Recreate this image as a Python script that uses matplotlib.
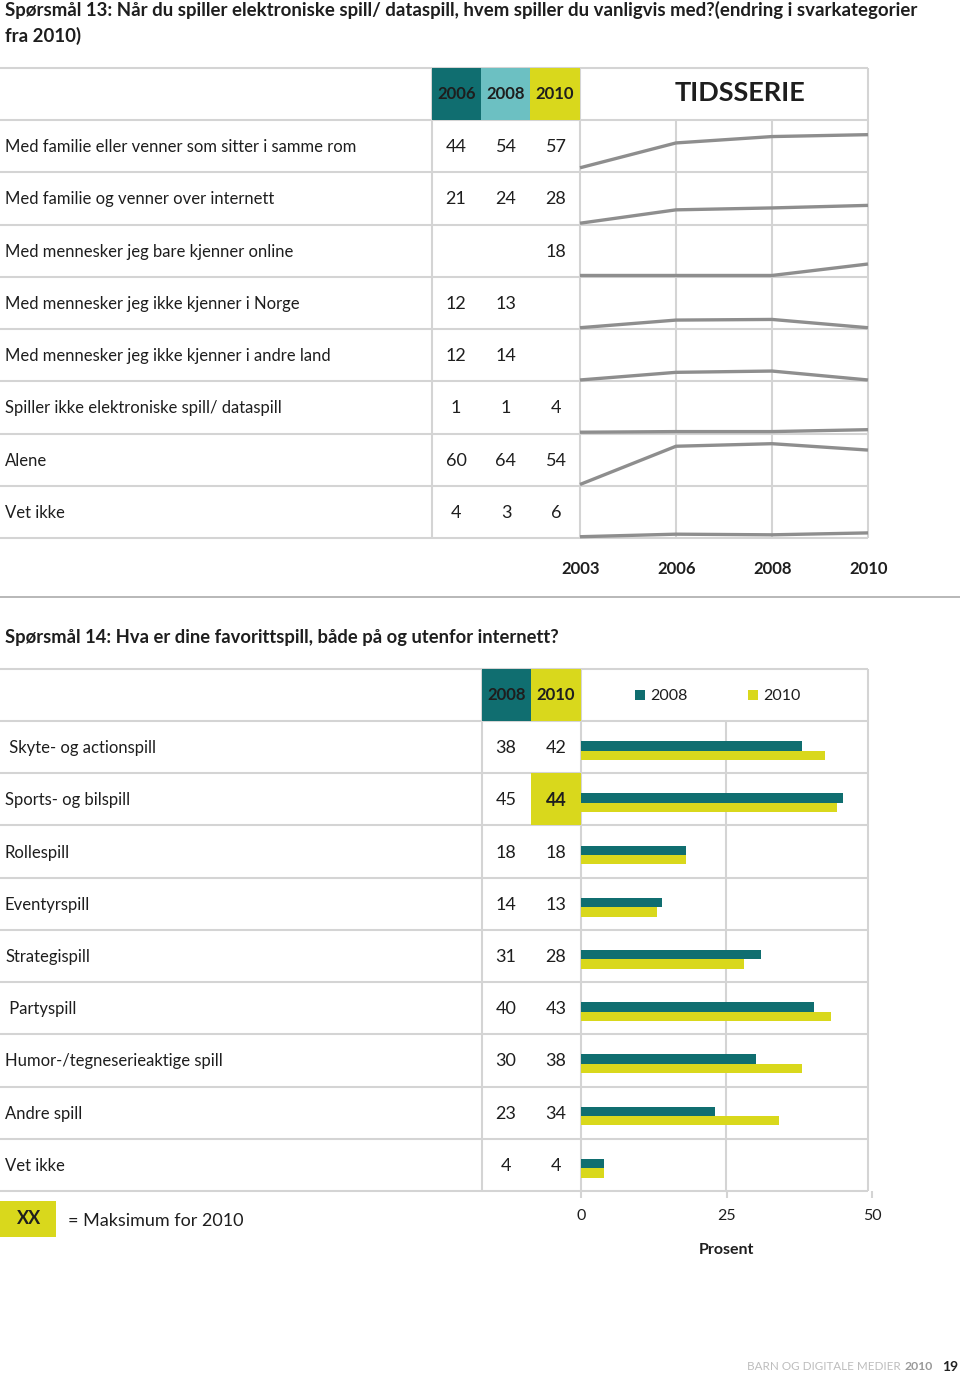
import matplotlib
matplotlib.use("Agg")
import matplotlib.pyplot as plt
from matplotlib.patches import Rectangle
import numpy as np

plt.rcParams['font.family'] = ['Lato', 'DejaVu Sans']

# ---------------- data ----------------
q13_title = ["Spørsmål 13: Når du spiller elektroniske spill/ dataspill, hvem spiller du vanligvis med?(endring i svarkategorier",
             "fra 2010)"]
q13_labels = ["Med familie eller venner som sitter i samme rom",
              "Med familie og venner over internett",
              "Med mennesker jeg bare kjenner online",
              "Med mennesker jeg ikke kjenner i Norge",
              "Med mennesker jeg ikke kjenner i andre land",
              "Spiller ikke elektroniske spill/ dataspill",
              "Alene",
              "Vet ikke"]
q13_cols = ["2006", "2008", "2010"]
q13_2006 = [44, 21, None, 12, 12, 1, 60, 4]
q13_2008 = [54, 24, None, 13, 14, 1, 64, 3]
q13_2010 = [57, 28, 18, None, None, 4, 54, 6]
# time series (sparklines); 2003 values estimated from the lines, missing plotted as 0
ts_years = ["2003", "2006", "2008", "2010"]
ts_2003 = [5, 0, 0, 0, 0, 0, 0, 0]

q14_title = "Spørsmål 14: Hva er dine favorittspill, både på og utenfor internett?"
q14_labels = [" Skyte- og actionspill", "Sports- og bilspill", "Rollespill", "Eventyrspill",
              "Strategispill", " Partyspill", "Humor-/tegneserieaktige spill", "Andre spill", "Vet ikke"]
q14_cols = ["2008", "2010"]
q14_2008 = [38, 45, 18, 14, 31, 40, 30, 23, 4]
q14_2010 = [42, 44, 18, 13, 28, 43, 38, 34, 4]
q14_ticks = [0, 25, 50]

# ---------------- style ----------------
TEAL = '#106e70'
LTEAL = '#6cc0c2'
YEL = '#d9d81c'
GRID = '#d4d4d4'
LINE = '#8e8e8e'
TXT = '#1e1e1e'

W, H = 960, 1374
fig = plt.figure(figsize=(W / 100, H / 100), dpi=100)
bg = fig.add_axes([0, 0, 1, 1])
bg.set_xlim(0, W)
bg.set_ylim(H, 0)
bg.axis('off')


def fax(x0, y0, x1, y1):
    return fig.add_axes([x0 / W, 1 - y1 / H, (x1 - x0) / W, (y1 - y0) / H])


def hline(y, x0, x1, **kw):
    bg.plot([x0, x1], [y, y], color=kw.get('color', GRID), lw=kw.get('lw', 1.5), zorder=1,
            solid_capstyle='butt')


def vline(x, y0, y1, **kw):
    bg.plot([x, x], [y0, y1], color=kw.get('color', GRID), lw=kw.get('lw', 1.5), zorder=1,
            solid_capstyle='butt')


# ---------------- Q13 ----------------
bg.text(5, 10, q13_title[0], fontsize=13.4, fontweight='bold', va='center', color=TXT)
bg.text(5, 36, q13_title[1], fontsize=13.4, fontweight='bold', va='center', color=TXT)

t1_top = 68
rows1 = np.linspace(120, 538, len(q13_labels) + 1)
col_edges1 = [432, 481, 530, 580]
spark_x0, spark_x1 = 580, 868

hline(t1_top, 0, spark_x1)
for y in rows1:
    hline(y, 0, spark_x1)
vline(432, t1_top, rows1[-1])
vline(580, t1_top, rows1[-1])
vline(868, t1_top, rows1[-1])
for k in (1, 2):
    vline(spark_x0 + k * (spark_x1 - spark_x0) / 3, rows1[0], rows1[-1])

head_cols1 = [TEAL, LTEAL, YEL]
for j, name in enumerate(q13_cols):
    bg.add_patch(Rectangle((col_edges1[j], t1_top), col_edges1[j + 1] - col_edges1[j], rows1[0] - t1_top,
                           facecolor=head_cols1[j], edgecolor='none', zorder=2))
    bg.text((col_edges1[j] + col_edges1[j + 1]) / 2, 94, name, fontsize=12, fontweight='bold',
            ha='center', va='center', color=TXT, zorder=3)
bg.text(740, 93, "TIDSSERIE", fontsize=19.5, fontweight='bold', ha='center', va='center', color=TXT)

num_x1 = [456, 506, 556]
for i, lab in enumerate(q13_labels):
    yc = (rows1[i] + rows1[i + 1]) / 2 + 1
    bg.text(5, yc, lab, fontsize=12, va='center', color=TXT)
    for j, series in enumerate([q13_2006, q13_2008, q13_2010]):
        v = series[i]
        if v is not None:
            bg.text(num_x1[j], yc, str(v), fontsize=13, ha='center', va='center', color=TXT)
    vals = [ts_2003[i]] + [0 if s[i] is None else s[i] for s in (q13_2006, q13_2008, q13_2010)]
    sax = fax(spark_x0, rows1[i], spark_x1, rows1[i + 1])
    sax.plot(range(len(ts_years)), vals, color=LINE, lw=2.4, clip_on=False, solid_capstyle='butt')
    sax.set_xlim(0, len(ts_years) - 1)
    sax.set_ylim(-2, 80)
    sax.axis('off')

for k, yr in enumerate(ts_years):
    bg.text(spark_x0 + 1 + k * (spark_x1 - spark_x0) / 3, 569, yr, fontsize=12, fontweight='bold',
            ha='center', va='center', color=TXT)

hline(597, 0, 960, color='#ababab', lw=1.2)

# ---------------- Q14 ----------------
bg.text(5, 637, q14_title, fontsize=13.2, fontweight='bold', va='center', color=TXT)

t2_top = 669
rows2 = np.linspace(721, 1191, len(q14_labels) + 1)
col_edges2 = [482, 531, 581]
hline(t2_top, 0, 868)
for y in rows2:
    hline(y, 0, 868)
vline(482, t2_top, rows2[-1])
vline(581, t2_top, rows2[-1])
vline(868, t2_top, rows2[-1])
vline(726, rows2[0], rows2[-1])

head_cols2 = [TEAL, YEL]
for j, name in enumerate(q14_cols):
    bg.add_patch(Rectangle((col_edges2[j], t2_top), col_edges2[j + 1] - col_edges2[j], rows2[0] - t2_top,
                           facecolor=head_cols2[j], edgecolor='none', zorder=2))
    bg.text((col_edges2[j] + col_edges2[j + 1]) / 2, 695, name, fontsize=12, fontweight='bold',
            ha='center', va='center', color=TXT, zorder=3)

# legend
for (x, c, name) in [(635, TEAL, "2008"), (748, YEL, "2010")]:
    bg.add_patch(Rectangle((x, 690), 10, 10, facecolor=c, edgecolor='none'))
    bg.text(x + 15, 695.5, name, fontsize=11.5, va='center', color=TXT)

imax = int(np.argmax(q14_2010))
num_x2 = [506, 556]
for i, lab in enumerate(q14_labels):
    yc = (rows2[i] + rows2[i + 1]) / 2 + 1
    bg.text(5, yc, lab, fontsize=12, va='center', color=TXT)
    for j, series in enumerate([q14_2008, q14_2010]):
        bold = (j == 1 and i == imax)
        if bold:
            bg.add_patch(Rectangle((col_edges2[1], rows2[i]), col_edges2[2] - col_edges2[1],
                                   rows2[i + 1] - rows2[i], facecolor=YEL, edgecolor='none', zorder=2))
        bg.text(num_x2[j], yc, str(series[i]), fontsize=13, ha='center', va='center', color=TXT,
                fontweight='bold' if bold else 'normal', zorder=3)

bax = fax(581, rows2[0], 872, rows2[-1])
bax.patch.set_alpha(0)
yy = np.arange(len(q14_labels))
bax.barh(yy + 0.475, q14_2008, height=0.18, color=TEAL, zorder=3)
bax.barh(yy + 0.655, q14_2010, height=0.18, color=YEL, zorder=3)
bax.set_ylim(len(q14_labels), 0)
bax.set_xlim(q14_ticks[0], q14_ticks[-1])
bax.set_xticks(q14_ticks)
bax.set_yticks([])
for s in bax.spines.values():
    s.set_visible(False)
bax.tick_params(axis='x', length=5, width=1.5, color=GRID, pad=8, labelsize=11.5, labelcolor=TXT)
bax.set_xlabel("Prosent", fontsize=11.5, fontweight='bold', color=TXT, labelpad=14)

# max marker legend
bg.add_patch(Rectangle((0, 1201), 56, 36, facecolor=YEL, edgecolor='none'))
bg.text(29, 1219, "XX", fontsize=13, fontweight='bold', ha='center', va='center', color=TXT)
bg.text(68, 1221, "= Maksimum for 2010", fontsize=13, va='center', color=TXT)

# footer
bg.text(958, 1367, "19", fontsize=10, fontweight='bold', ha='right', va='center', color='#222222')
bg.text(933, 1367, "2010", fontsize=8.8, fontweight='bold', ha='right', va='center', color='#9a9a9a')
bg.text(901, 1367, "BARN OG DIGITALE MEDIER", fontsize=8.4, ha='right', va='center', color='#bdbdbd')

fig.savefig("out.png", dpi=100)
